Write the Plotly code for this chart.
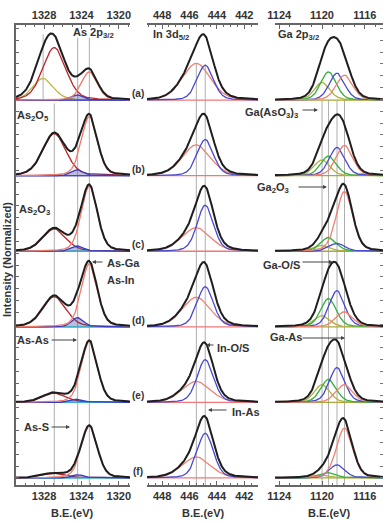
import numpy as np
import plotly.graph_objects as go

# ---------------- data ----------------
ROW_LABELS = ["(a)", "(b)", "(c)", "(d)", "(e)", "(f)"]
ROW_STEP = 1.15  # vertical offset between stacked spectra (normalized units)

# As 2p3/2 components: olive, oxide (dark red), As-As/As-S (blue), As-Ga/As-In (salmon)
AS_CENTERS = [1328.1, 1326.9, 1324.4, 1323.15]
AS_FWHM = [2.6, 2.9, 1.5, 2.0]
AS_HEIGHTS = [
    [0.33, 0.80, 0.08, 0.43],
    [0.00, 0.64, 0.09, 0.90],
    [0.00, 0.34, 0.08, 0.99],
    [0.00, 0.46, 0.14, 0.96],
    [0.00, 0.14, 0.05, 0.93],
    [0.00, 0.07, 0.05, 0.79],
]
AS_COLORS = ["#b9b84a", "#b8262a", "#3a3ac0", "#f07a6a"]

# In 3d5/2 components: In-O/S (salmon), In-As (blue)
IN_CENTERS = [445.5, 444.85]
IN_FWHM = [2.4, 1.4]
IN_HEIGHTS = [
    [0.56, 0.53],
    [0.47, 0.55],
    [0.36, 0.70],
    [0.45, 0.61],
    [0.32, 0.65],
    [0.32, 0.68],
]
IN_COLORS = ["#f08070", "#4848d0"]

# Ga 2p3/2 components: Ga(AsO3)3 (olive), Ga2O3 (green), Ga-O/S (blue), Ga-As (salmon)
GA_CENTERS = [1120.0, 1119.4, 1118.6, 1117.9]
GA_FWHM = [1.7, 1.7, 1.7, 1.8]
GA_HEIGHTS = [
    [0.27, 0.43, 0.41, 0.38],
    [0.24, 0.30, 0.43, 0.46],
    [0.09, 0.21, 0.12, 0.91],
    [0.17, 0.43, 0.55, 0.23],
    [0.27, 0.35, 0.53, 0.27],
    [0.05, 0.08, 0.20, 0.76],
]
GA_COLORS = ["#b0b040", "#30b040", "#4848d0", "#f08070"]

AS_TICKS = [1328, 1324, 1320]
IN_TICKS = [448, 446, 444, 442]
GA_TICKS = [1124, 1120, 1116]

AS_RANGE = [1331.0, 1318.8]
IN_RANGE = [449.1, 441.0]
GA_RANGE = [1124.4, 1114.3]
Y_RANGE = [-0.107, 6.893]

# ---------------- layout helpers ----------------
W, H = 388, 523
ML, MR, MT, MB = 16, 5, 25, 38
PW, PH = W - ML - MR, H - MT - MB
FONT = "Liberation Sans, Arial, sans-serif"
TXT = "#333333"


def px(x):
    return (x - ML) / PW


def py(y):
    return (H - MB - y) / PH


def shape(e, c, fwhm, eta=0.25):
    g = np.exp(-4 * np.log(2) * ((e - c) / fwhm) ** 2)
    l = 1.0 / (1.0 + 4 * ((e - c) / fwhm) ** 2)
    return (1 - eta) * g + eta * l


fig = go.Figure()


def add_column(xa, ya, rng, centers, fwhms, heights, colors, base_colors, fill_idx=None):
    e = np.linspace(min(rng), max(rng), 400)
    n = len(heights)
    for k, hs in enumerate(heights):
        off = (n - 1 - k) * ROW_STEP
        base = np.full_like(e, off)
        bc = base_colors[k]
        fig.add_trace(go.Scatter(x=e, y=base, mode="lines", xaxis=xa, yaxis=ya,
                                 line=dict(color=bc, width=1.3), hoverinfo="skip"))
        total = np.zeros_like(e)
        for j, (c, w, h, col) in enumerate(zip(centers, fwhms, hs, colors)):
            comp = h * shape(e, c, w)
            total += comp
            if h <= 0:
                continue
            if fill_idx is not None and j == fill_idx:
                fig.add_trace(go.Scatter(x=e, y=base, mode="lines", xaxis=xa, yaxis=ya,
                                         line=dict(color=bc, width=1.3), hoverinfo="skip"))
                fig.add_trace(go.Scatter(x=e, y=off + comp, mode="lines", xaxis=xa, yaxis=ya,
                                         fill="tonexty", fillcolor="rgba(70,70,150,0.35)",
                                         line=dict(color=col, width=1.3), hoverinfo="skip"))
            else:
                fig.add_trace(go.Scatter(x=e, y=off + comp, mode="lines", xaxis=xa, yaxis=ya,
                                         line=dict(color=col, width=1.3), hoverinfo="skip"))
        fig.add_trace(go.Scatter(x=e, y=off + total, mode="lines", xaxis=xa, yaxis=ya,
                                 line=dict(color="#1e1e1e", width=2), hoverinfo="skip"))


add_column("x", "y", AS_RANGE, AS_CENTERS, AS_FWHM, AS_HEIGHTS, AS_COLORS,
           ["#4848c0", "#4848c0", "#3aaec8", "#3aaec8", "#3aaec8", "#3aaec8"], fill_idx=2)
add_column("x2", "y2", IN_RANGE, IN_CENTERS, IN_FWHM, IN_HEIGHTS, IN_COLORS, ["#f07878"] * 6)
add_column("x3", "y3", GA_RANGE, GA_CENTERS, GA_FWHM, GA_HEIGHTS, GA_COLORS, ["#a8a838"] * 6)

# invisible traces so that top axes are drawn
for xa, ya, rng in [("x4", "y", AS_RANGE), ("x5", "y2", IN_RANGE), ("x6", "y3", GA_RANGE)]:
    fig.add_trace(go.Scatter(x=[sum(rng) / 2], y=[0], xaxis=xa, yaxis=ya, mode="markers",
                             marker=dict(opacity=0), hoverinfo="skip"))

# vertical guide lines at component centres
top_a = (len(AS_HEIGHTS) - 1) * ROW_STEP
guide = dict(color="rgba(120,120,120,0.6)", width=1)
as_spans = [(top_a, top_a + 1.0), (Y_RANGE[0], top_a - 0.05), (Y_RANGE[0], top_a + 0.95), (Y_RANGE[0], top_a + 0.95)]
for c, (y0, y1) in zip(AS_CENTERS, as_spans):
    fig.add_shape(type="line", xref="x", yref="y", x0=c, x1=c, y0=y0, y1=y1, line=guide, layer="below")
for c in IN_CENTERS:
    fig.add_shape(type="line", xref="x2", yref="y2", x0=c, x1=c, y0=Y_RANGE[0], y1=top_a + 0.55, line=guide, layer="below")
for c in GA_CENTERS:
    fig.add_shape(type="line", xref="x3", yref="y3", x0=c, x1=c, y0=Y_RANGE[0], y1=top_a, line=guide, layer="below")

# ---------------- axes ----------------
tickfont = dict(family=FONT, size=11, color=TXT, weight="bold")
common_x = dict(showline=True, linecolor="#666", linewidth=1.5, ticks="inside", ticklen=4,
                tickcolor="#666", showgrid=False, zeroline=False, tickfont=tickfont,
                automargin=False)
common_y = dict(range=Y_RANGE, showgrid=False, zeroline=False, showticklabels=False,
                automargin=False, domain=[0, 1])


def minor(d):
    return dict(ticks="inside", ticklen=2, tickcolor="#666", dtick=d)


fig.update_layout(
    xaxis=dict(common_x, domain=[px(16), px(130)], range=AS_RANGE, tickvals=AS_TICKS,
               minor=minor(1), anchor="y"),
    xaxis2=dict(common_x, domain=[px(147), px(258)], range=IN_RANGE, tickvals=IN_TICKS,
                minor=minor(0.5), anchor="y2"),
    xaxis3=dict(common_x, domain=[px(275), px(383)], range=GA_RANGE, tickvals=GA_TICKS,
                minor=minor(1), anchor="y3"),
    xaxis4=dict(common_x, range=AS_RANGE, tickvals=AS_TICKS, overlaying="x", side="top", anchor="y",
                minor=minor(1)),
    xaxis5=dict(common_x, range=IN_RANGE, tickvals=IN_TICKS, overlaying="x2", side="top", anchor="y2",
                minor=minor(0.5)),
    xaxis6=dict(common_x, range=GA_RANGE, tickvals=GA_TICKS, overlaying="x3", side="top", anchor="y3",
                minor=minor(1)),
    yaxis=dict(common_y, anchor="x", showline=True, linecolor="#666", linewidth=1.5,
               ticks="inside", ticklen=3, tickcolor="#666", dtick=0.18, tick0=0),
    yaxis2=dict(common_y, anchor="x2", showline=False),
    yaxis3=dict(common_y, anchor="x3", side="right", showline=False,
                ticks="inside", ticklen=3, tickcolor="#777", dtick=0.18, tick0=0),
    width=W, height=H, margin=dict(l=ML, r=MR, t=MT, b=MB),
    paper_bgcolor="white", plot_bgcolor="white", showlegend=False,
)

# ---------------- text ----------------
ann = []


def text(x, y, s, size=11, xanchor="center", angle=0):
    ann.append(dict(x=px(x), y=py(y), xref="paper", yref="paper", text=s, showarrow=False,
                    xanchor=xanchor, yanchor="middle", textangle=angle,
                    font=dict(family=FONT, size=size, color=TXT, weight="bold")))


def arrow(xh, yh, dx):
    ann.append(dict(x=px(xh), y=py(yh), xref="paper", yref="paper", text="", showarrow=True,
                    ax=dx, ay=0, arrowhead=2, arrowsize=0.8, arrowwidth=1, arrowcolor="#444"))


for k, lab in enumerate(ROW_LABELS):
    off = (len(ROW_LABELS) - 1 - k) * ROW_STEP + 0.1
    ann.append(dict(x=px(138), y=off, xref="paper", yref="y", text=lab, showarrow=False,
                    xanchor="center", yanchor="middle",
                    font=dict(family=FONT, size=10, color=TXT, weight="bold")))

text(93, 33, "As 2p<sub>3/2</sub>", 11)
text(171, 35, "In 3d<sub>5/2</sub>", 11)
text(298, 35, "Ga 2p<sub>3/2</sub>", 11)
text(33, 116, "As<sub>2</sub>O<sub>5</sub>", 11)
text(34, 210, "As<sub>2</sub>O<sub>3</sub>", 11)
text(105, 263, "As-Ga", 11, "left")
text(105, 280, "As-In", 11, "left")
arrow(92, 262, 12)
text(33, 340, "As-As", 11)
arrow(77, 340, -27)
text(36, 427, "As-S", 11)
arrow(70, 427, -20)
text(215, 348, "In-O/S", 11, "left")
arrow(206, 345, 9)
text(230, 412, "In-As", 11, "left")
arrow(208, 410, 20)
text(271, 113, "Ga(AsO<sub>3</sub>)<sub>3</sub>", 11)
arrow(318, 110, -17)
text(273, 188, "Ga<sub>2</sub>O<sub>3</sub>", 11)
arrow(327, 187, -30)
text(281, 265, "Ga-O/S", 11)
arrow(333, 262, -32)
text(286, 337, "Ga-As", 11)
arrow(345, 338, -44)

text(7, 260, "Intensity (Normalized)", 11, angle=-90)
text(72, 513, "B.E.(eV)", 11)
text(203, 513, "B.E.(eV)", 11)
text(329, 513, "B.E.(eV)", 11)

fig.update_layout(annotations=ann)
fig.write_html("out.html")
